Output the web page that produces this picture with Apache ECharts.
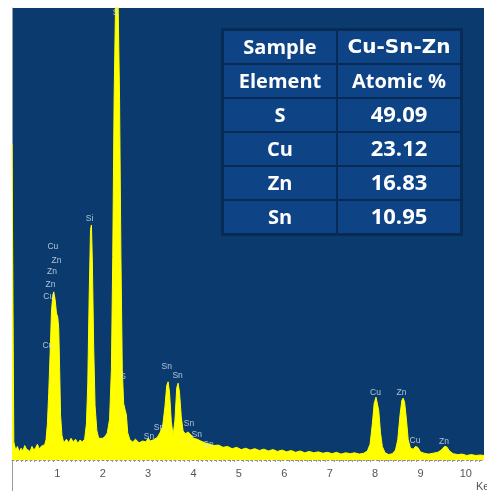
<!DOCTYPE html>
<html>
<head>
<meta charset="utf-8">
<script src="https://cdn.jsdelivr.net/npm/echarts@6/dist/echarts.min.js"></script>
<style>
  html, body { margin: 0; padding: 0; background: #ffffff; }
  #chart { width: 487px; height: 491px; }
</style>
</head>
<body>
<div id="chart"></div>
<script>
// EDS spectrum of the Cu-Sn-Zn sample: energy (keV) and counts
const energyKeV = [
  0.00, 0.02, 0.04, 0.08, 0.12, 0.16, 0.20, 0.24, 0.28, 0.32, 0.36, 0.40, 0.44, 0.48, 0.52, 0.56, 0.60, 0.64, 0.68, 0.72,
  0.75, 0.78, 0.81, 0.84, 0.87, 0.90, 0.92, 0.95, 0.98, 1.01, 1.03, 1.05, 1.07, 1.10, 1.14, 1.20, 1.25, 1.30, 1.35, 1.40,
  1.45, 1.50, 1.55, 1.60, 1.64, 1.67, 1.70, 1.73, 1.75, 1.77, 1.80, 1.83, 1.87, 1.91, 1.95, 2.00, 2.05, 2.10, 2.15, 2.19,
  2.22, 2.25, 2.28, 2.31, 2.34, 2.37, 2.40, 2.43, 2.46, 2.49, 2.52, 2.55, 2.60, 2.66, 2.72, 2.80, 2.88, 2.95, 3.00, 3.05,
  3.12, 3.20, 3.26, 3.32, 3.37, 3.41, 3.44, 3.47, 3.51, 3.55, 3.59, 3.63, 3.66, 3.69, 3.73, 3.77, 3.82, 3.88, 3.94, 4.00,
  4.08, 4.16, 4.25, 4.35, 4.45, 4.55, 4.65, 4.75, 4.85, 4.95, 5.05, 5.15, 5.25, 5.35, 5.45, 5.55, 5.65, 5.75, 5.85, 5.95,
  6.05, 6.15, 6.25, 6.35, 6.45, 6.55, 6.65, 6.75, 6.85, 6.95, 7.05, 7.15, 7.25, 7.35, 7.45, 7.55, 7.65, 7.75, 7.83, 7.89,
  7.94, 7.98, 8.02, 8.05, 8.08, 8.12, 8.16, 8.22, 8.30, 8.38, 8.45, 8.50, 8.55, 8.59, 8.62, 8.65, 8.69, 8.73, 8.78, 8.84,
  8.89, 8.94, 9.00, 9.08, 9.18, 9.28, 9.38, 9.46, 9.53, 9.58, 9.64, 9.72, 9.82, 9.92, 10.02, 10.12, 10.22, 10.32, 10.40
];
const counts = [
  700, 700, 40, 22, 30, 18, 26, 20, 32, 24, 28, 19, 30, 22, 27, 35, 24, 30, 26, 34,
  45, 80, 150, 235, 330, 365, 372, 355, 325, 315, 290, 200, 100, 55, 38, 46, 38, 48, 40, 46,
  37, 44, 40, 46, 80, 170, 360, 510, 520, 440, 250, 120, 65, 48, 44, 48, 52, 60, 90, 200,
  450, 800, 1000, 1100, 1000, 800, 450, 200, 125, 112, 100, 60, 44, 40, 46, 38, 42, 40, 48, 42,
  45, 50, 60, 75, 118, 165, 173, 150, 85, 54, 88, 160, 170, 150, 95, 64, 58, 62, 56, 48,
  46, 42, 38, 35, 32, 33, 28, 30, 25, 28, 23, 26, 22, 25, 21, 24, 20, 23, 19, 22,
  18, 21, 17, 20, 16, 19, 16, 18, 15, 17, 14, 17, 13, 16, 14, 16, 13, 15, 20, 35,
  80, 125, 139, 135, 110, 60, 30, 16, 12, 14, 22, 45, 100, 132, 137, 128, 90, 45, 26, 24,
  30, 28, 18, 15, 13, 15, 17, 22, 30, 29, 20, 14, 12, 13, 10, 12, 10, 11, 10
];

// Element line markers: text, energy (keV), counts
const peakLabelText = ['S', 'Si', 'Cu', 'Zn', 'Zn', 'Zn', 'Cu', 'Cu', 'S', 'Sn', 'Sn', 'Sn', 'Sn', 'Sn', 'Sn', 'Sn', 'Cu', 'Zn', 'Cu', 'Zn'];
const peakLabelKeV = [2.28, 1.71, 0.90, 0.98, 0.88, 0.85, 0.81, 0.79, 2.45, 3.41, 3.65, 3.24, 3.02, 3.90, 4.07, 4.33, 8.01, 8.58, 8.88, 9.52];
const peakLabelCounts = [990, 535, 471, 442, 416, 389, 361, 252, 184, 206, 186, 71, 51, 80, 55, 35, 150, 148, 42, 40];

// Composition table
const tableHeader = [['Sample', 'Cu-Sn-Zn'], ['Element', 'Atomic %']];
const tableElements = ['S', 'Cu', 'Zn', 'Sn'];
const atomicPercent = ['49.09', '23.12', '16.83', '10.95'];

// Energy axis tick labels
const energyTicks = [1, 2, 3, 4, 5, 6, 7, 8, 9, 10];

const spectrum = energyKeV.map((e, i) => [e, counts[i]]);
const peakLabels = peakLabelText.map((t, i) => ({ name: t, value: [peakLabelKeV[i], peakLabelCounts[i]] }));

// Table graphic
const tableLeft = 221, tableTop = 28, colW = [114, 124], rowH = 34;
const tableRows = tableHeader.concat(tableElements.map((el, i) => [el, atomicPercent[i]]));
const tableChildren = [];
tableChildren.push({
  type: 'rect',
  shape: { x: -2, y: -2, width: colW[0] + colW[1] + 4, height: rowH * tableRows.length + 4 },
  style: { fill: '#082b56' }
});
tableRows.forEach((row, r) => {
  let x = 0;
  row.forEach((txt, c) => {
    tableChildren.push({
      type: 'rect',
      shape: { x: x + 1, y: r * rowH + 1, width: colW[c] - 2, height: rowH - 2 },
      style: { fill: '#0e4385' }
    });
    const big = r >= 2 && c === 1;
    const title = r === 0 && c === 1;
    tableChildren.push({
      type: 'text',
      x: x + colW[c] / 2,
      y: r * rowH + rowH / 2 + 1,
      style: {
        text: txt,
        fill: '#ffffff',
        align: 'center',
        verticalAlign: 'middle',
        fontFamily: title ? 'DejaVu Sans' : 'Open Sans',
        fontWeight: 'bold',
        fontSize: big ? 22 : 20
      }
    });
    x += colW[c];
  });
});

const chart = echarts.init(document.getElementById('chart'), null, { renderer: 'canvas' });
chart.setOption({
  animation: false,
  backgroundColor: '#ffffff',
  grid: {
    left: 12, right: 0, top: 8, bottom: 31,
    show: true, backgroundColor: '#0b3a6e', borderWidth: 0
  },
  xAxis: {
    type: 'value',
    min: 0, max: 10.4, interval: 1,
    splitLine: { show: false },
    axisLine: { show: true, onZero: false, lineStyle: { color: '#8a8a8a', width: 1, type: [2, 2.5] } },
    axisTick: { show: false },
    minorTick: { show: true, splitNumber: 10, length: 2, lineStyle: { color: '#9a9a9a' } },
    axisLabel: {
      margin: 8,
      color: '#555555',
      fontFamily: 'Liberation Sans',
      fontSize: 11,
      formatter: v => (energyTicks.indexOf(Math.round(v * 100) / 100) >= 0 ? String(v) : '')
    }
  },
  yAxis: {
    type: 'value',
    min: 0, max: 1000,
    splitLine: { show: false },
    axisLabel: { show: false },
    axisTick: { show: false },
    axisLine: { show: true, lineStyle: { color: '#8ea0b4', width: 1 } }
  },
  series: [
    {
      type: 'line',
      data: spectrum,
      symbol: 'none',
      smooth: false,
      clip: true,
      lineStyle: { color: '#ffff00', width: 1 },
      areaStyle: { color: '#ffff00', opacity: 1 },
      z: 2
    },
    {
      type: 'scatter',
      data: peakLabels,
      symbolSize: 1,
      itemStyle: { color: 'rgba(0,0,0,0)' },
      label: {
        show: true,
        position: 'inside',
        formatter: p => p.name,
        color: '#d4e2f0',
        fontFamily: 'Liberation Sans',
        fontSize: 8.5
      },
      z: 3
    }
  ],
  graphic: [
    { type: 'group', left: tableLeft, top: tableTop, children: tableChildren, z: 10 },
    { type: 'line', shape: { x1: 12.5, y1: 460, x2: 12.5, y2: 491 }, style: { stroke: '#9a9a9a', lineWidth: 1 } },
    { type: 'text', left: 476, top: 481, style: { text: 'Kev', fill: '#555555', fontFamily: 'Liberation Sans', fontSize: 11 } }
  ]
});
</script>
</body>
</html>
